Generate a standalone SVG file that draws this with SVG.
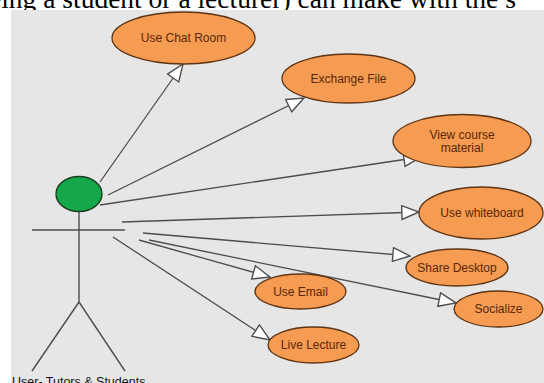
<svg xmlns="http://www.w3.org/2000/svg" width="544" height="383" viewBox="0 0 544 383">
<defs>
<style>
.uc ellipse{fill:#f59b52;stroke:#5e3414;stroke-width:1.3}
.uc text{font-family:"Liberation Sans",Arial,sans-serif;font-size:12px;fill:#5a2808;text-anchor:middle}
.conn line{stroke:#4d4d4d;stroke-width:1.3;marker-end:url(#tri)}
.actor line{stroke:#4d4d4d;stroke-width:1.4}
</style>
<marker id="tri" markerUnits="userSpaceOnUse" markerWidth="20" markerHeight="16" refX="16" refY="7" orient="auto" viewBox="0 0 17 14">
<path d="M1,1 L16,7 L1,13 Z" fill="#fff" stroke="#4d4d4d" stroke-width="1.2"/>
</marker>
</defs>
<rect width="544" height="383" fill="#fff"/>
<text x="-11" y="8" font-family="Liberation Serif,Times New Roman,serif" font-size="27.5" fill="#000">eing a student or a lecturer) can make with the s</text>
<rect x="11" y="10" width="533" height="373" fill="#e6e6e6"/>
<g id="connectors" class="conn">
<line x1="100" y1="182" x2="183" y2="64"/>
<line x1="108" y1="195" x2="304" y2="98"/>
<line x1="100" y1="205" x2="421" y2="157"/>
<line x1="122" y1="222" x2="419" y2="212"/>
<line x1="143" y1="233" x2="410" y2="256"/>
<line x1="149" y1="240" x2="456" y2="303"/>
<line x1="139" y1="240" x2="270" y2="277"/>
<line x1="113" y1="237" x2="270" y2="340"/>
</g>
<g id="actor" class="actor">
<ellipse cx="79" cy="194" rx="23" ry="17.5" fill="#15a84a" stroke="#1c3d22" stroke-width="1.4"/>
<line x1="79" y1="212" x2="79" y2="302"/>
<line x1="32" y1="230" x2="125" y2="230"/>
<line x1="79" y1="302" x2="32" y2="371"/>
<line x1="79" y1="302" x2="125" y2="371"/>
<text x="12" y="386" font-family="Liberation Sans,Arial,sans-serif" font-size="12.5" fill="#111">User- Tutors &amp; Students</text>
</g>
<g id="chat" class="uc"><ellipse cx="183.5" cy="38" rx="71.5" ry="26"/><text x="183.5" y="42">Use Chat Room</text></g>
<g id="exchange" class="uc"><ellipse cx="348.5" cy="78.5" rx="66.5" ry="24.5"/><text x="348.5" y="82.5">Exchange File</text></g>
<g id="course" class="uc"><ellipse cx="462" cy="141" rx="69" ry="26.5"/><text x="462" y="139">View course</text><text x="462" y="152">material</text></g>
<g id="whiteboard" class="uc"><ellipse cx="481" cy="213" rx="62" ry="26"/><text x="482" y="217">Use whiteboard</text></g>
<g id="desktop" class="uc"><ellipse cx="457" cy="267.5" rx="51" ry="18.5"/><text x="457" y="271.5">Share Desktop</text></g>
<g id="socialize" class="uc"><ellipse cx="498.5" cy="309" rx="44.5" ry="18"/><text x="498.5" y="313">Socialize</text></g>
<g id="email" class="uc"><ellipse cx="300.5" cy="291.5" rx="45.5" ry="17.5"/><text x="300.5" y="295.5">Use Email</text></g>
<g id="lecture" class="uc"><ellipse cx="313.5" cy="345" rx="45.5" ry="18"/><text x="313.5" y="349">Live Lecture</text></g>
</svg>
